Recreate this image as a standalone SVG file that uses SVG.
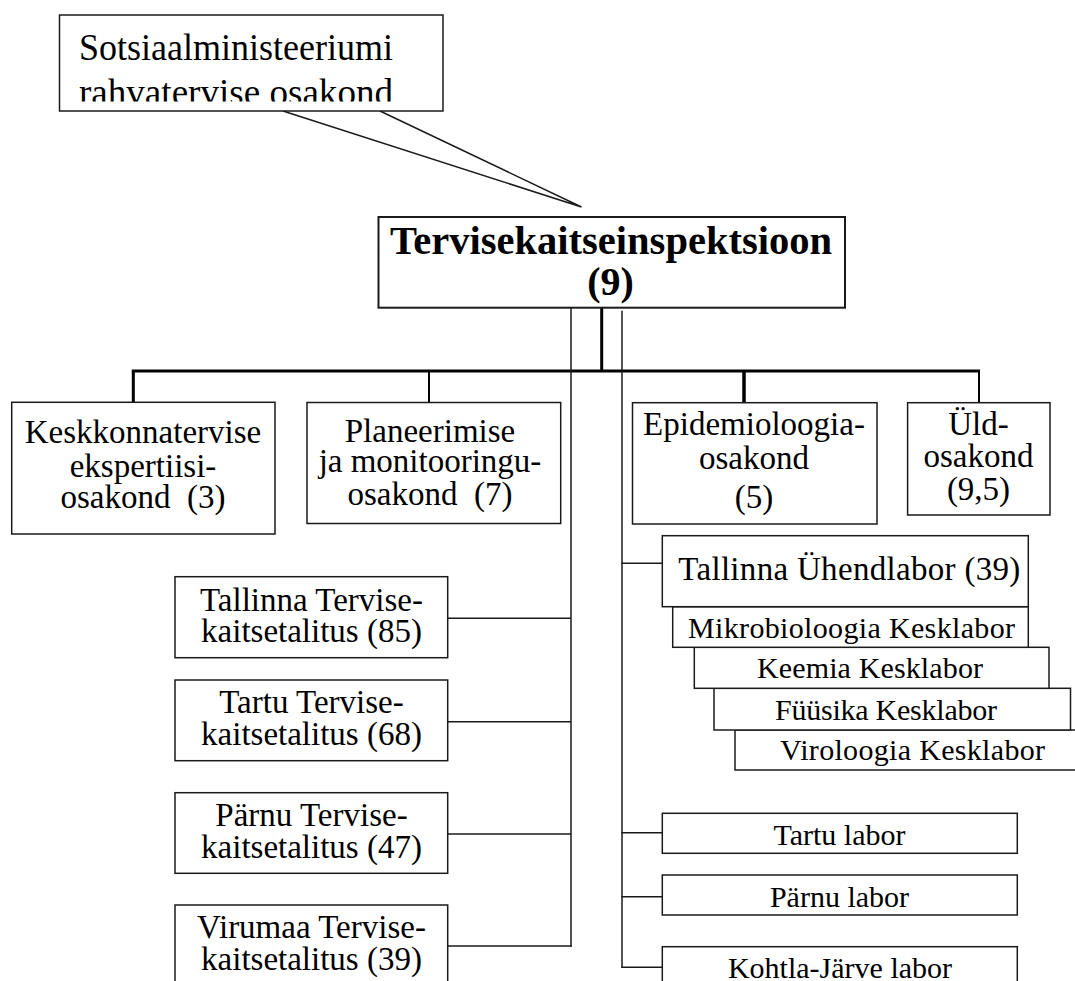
<svg xmlns="http://www.w3.org/2000/svg" width="1075" height="981" viewBox="0 0 1075 981">
<style>
.box{fill:#fff;stroke:#1a1a1a;stroke-width:1.5}
.t{font-family:"Liberation Serif","Times New Roman",serif;font-size:33px;fill:#000}
.tc{text-anchor:middle}
.s30{font-size:30px}
.ln{stroke:#1a1a1a;stroke-width:1.5;fill:none}
.thick{stroke:#000;stroke-width:3;fill:none}
.med{stroke:#000;stroke-width:2;fill:none}
</style>
<defs>
<clipPath id="calloutClip"><rect x="60" y="16" width="382" height="85.5"/></clipPath>
</defs>
<rect width="1075" height="981" fill="#fff"/>

<g id="connectors">
<polyline class="ln" points="283,111 581.5,207 380,111"/>
<line class="thick" x1="601.7" y1="307.7" x2="601.7" y2="371"/>
<line class="thick" x1="131.8" y1="371" x2="980" y2="371"/>
<line class="thick" x1="133.3" y1="371" x2="133.3" y2="402.3"/>
<line class="med" x1="429" y1="371" x2="429" y2="402.5"/>
<line class="thick" x1="744" y1="371" x2="744" y2="402.7" style="stroke-width:3.5"/>
<line class="med" x1="979" y1="371" x2="979" y2="402.7"/>
<line class="ln" x1="571" y1="307.7" x2="571" y2="946.7"/>
<line class="ln" x1="447.7" y1="618.3" x2="571" y2="618.3"/>
<line class="ln" x1="447.7" y1="721.7" x2="571" y2="721.7"/>
<line class="ln" x1="447.7" y1="834" x2="571" y2="834"/>
<line class="ln" x1="447.7" y1="946" x2="571.7" y2="946"/>
<line class="ln" x1="622" y1="310.7" x2="622" y2="968"/>
<line class="ln" x1="621.3" y1="563.3" x2="662.3" y2="563.3"/>
<line class="ln" x1="621.3" y1="832.7" x2="662.3" y2="832.7"/>
<line class="ln" x1="621.3" y1="896.7" x2="662.3" y2="896.7"/>
<line class="ln" x1="621.3" y1="967.3" x2="662.3" y2="967.3"/>
</g>

<g id="callout">
<rect class="box" x="59.5" y="15" width="383.5" height="96"/>
<g clip-path="url(#calloutClip)">
<text class="t" x="79" y="60" style="font-size:37px" textLength="314" lengthAdjust="spacingAndGlyphs">Sotsiaalministeeriumi</text>
<text class="t" x="79" y="104.5" style="font-size:37px" textLength="314" lengthAdjust="spacingAndGlyphs">rahvatervise osakond</text>
</g>
</g>

<g id="main">
<rect class="box" x="378.5" y="217" width="466.5" height="90.7" style="stroke-width:2"/>
<text class="t" x="390" y="254" style="font-size:40px;font-weight:bold" textLength="442" lengthAdjust="spacingAndGlyphs">Tervisekaitseinspektsioon</text>
<text class="t tc" x="610.5" y="295" style="font-size:40px;font-weight:bold">(9)</text>
</g>

<g id="keskkonna">
<rect class="box" x="11.7" y="402.3" width="263.3" height="131.7"/>
<text class="t tc" x="143" y="443.3">Keskkonnatervise</text>
<text class="t tc" x="143" y="476.7">ekspertiisi-</text>
<text class="t tc" x="143" y="508" xml:space="preserve">osakond  (3)</text>
</g>

<g id="planeerimise">
<rect class="box" x="307" y="402.5" width="253.7" height="121"/>
<text class="t tc" x="430" y="441.7">Planeerimise</text>
<text class="t tc" x="430" y="471.7">ja monitooringu-</text>
<text class="t tc" x="430" y="505" xml:space="preserve">osakond  (7)</text>
</g>

<g id="epidemioloogia">
<rect class="box" x="632.5" y="402.7" width="244.5" height="121.3"/>
<text class="t tc" x="754" y="435">Epidemioloogia-</text>
<text class="t tc" x="754" y="469.3">osakond</text>
<text class="t tc" x="754" y="508">(5)</text>
</g>

<g id="yld">
<rect class="box" x="907.6" y="402.7" width="142.4" height="112.3"/>
<text class="t tc" x="978.5" y="435">Üld-</text>
<text class="t tc" x="978.5" y="467">osakond</text>
<text class="t tc" x="978.5" y="500">(9,5)</text>
</g>

<g id="tallinna-talitus">
<rect class="box" x="175" y="576.7" width="272.7" height="81"/>
<text class="t tc" x="311.5" y="611">Tallinna Tervise-</text>
<text class="t tc" x="311.5" y="641.7">kaitsetalitus (85)</text>
</g>

<g id="tartu-talitus">
<rect class="box" x="175" y="680" width="272.7" height="80.7"/>
<text class="t tc" x="311.5" y="712.7">Tartu Tervise-</text>
<text class="t tc" x="311.5" y="745">kaitsetalitus (68)</text>
</g>

<g id="parnu-talitus">
<rect class="box" x="175" y="792.7" width="272.7" height="80.6"/>
<text class="t tc" x="311.5" y="826">Pärnu Tervise-</text>
<text class="t tc" x="311.5" y="858.3">kaitsetalitus (47)</text>
</g>

<g id="virumaa-talitus">
<rect class="box" x="175" y="905" width="272.7" height="100"/>
<text class="t tc" x="311.5" y="938.3">Virumaa Tervise-</text>
<text class="t tc" x="311.5" y="970">kaitsetalitus (39)</text>
</g>

<g id="viroloogia">
<rect class="box" x="735" y="730" width="356" height="40"/>
<text class="t tc s30" x="912.5" y="760" textLength="265" lengthAdjust="spacing">Viroloogia Kesklabor</text>
</g>

<g id="fyysika">
<rect class="box" x="714" y="688.3" width="356.5" height="41.7"/>
<text class="t tc s30" x="886" y="720" textLength="222" lengthAdjust="spacing">Füüsika Kesklabor</text>
</g>

<g id="keemia">
<rect class="box" x="694.3" y="647.3" width="354.7" height="41"/>
<text class="t tc s30" x="870" y="678.3" textLength="226" lengthAdjust="spacing">Keemia Kesklabor</text>
</g>

<g id="mikrobioloogia">
<rect class="box" x="672.7" y="606.7" width="355.6" height="40.6"/>
<text class="t tc s30" x="851.5" y="638.3" textLength="327" lengthAdjust="spacing">Mikrobioloogia Kesklabor</text>
</g>

<g id="tallinna-yhendlabor">
<rect class="box" x="662.3" y="535.7" width="366" height="71"/>
<text class="t tc" x="849.3" y="580" textLength="342" lengthAdjust="spacing">Tallinna Ühendlabor (39)</text>
</g>

<g id="tartu-labor">
<rect class="box" x="662.3" y="813.3" width="355" height="40"/>
<text class="t tc s30" x="839.5" y="845">Tartu labor</text>
</g>

<g id="parnu-labor">
<rect class="box" x="662.3" y="875" width="355" height="40"/>
<text class="t tc s30" x="839.5" y="906.7">Pärnu labor</text>
</g>

<g id="kohtla-labor">
<rect class="box" x="662.3" y="946.7" width="355" height="60"/>
<text class="t tc s30" x="840" y="978.3">Kohtla-Järve labor</text>
</g>
</svg>
